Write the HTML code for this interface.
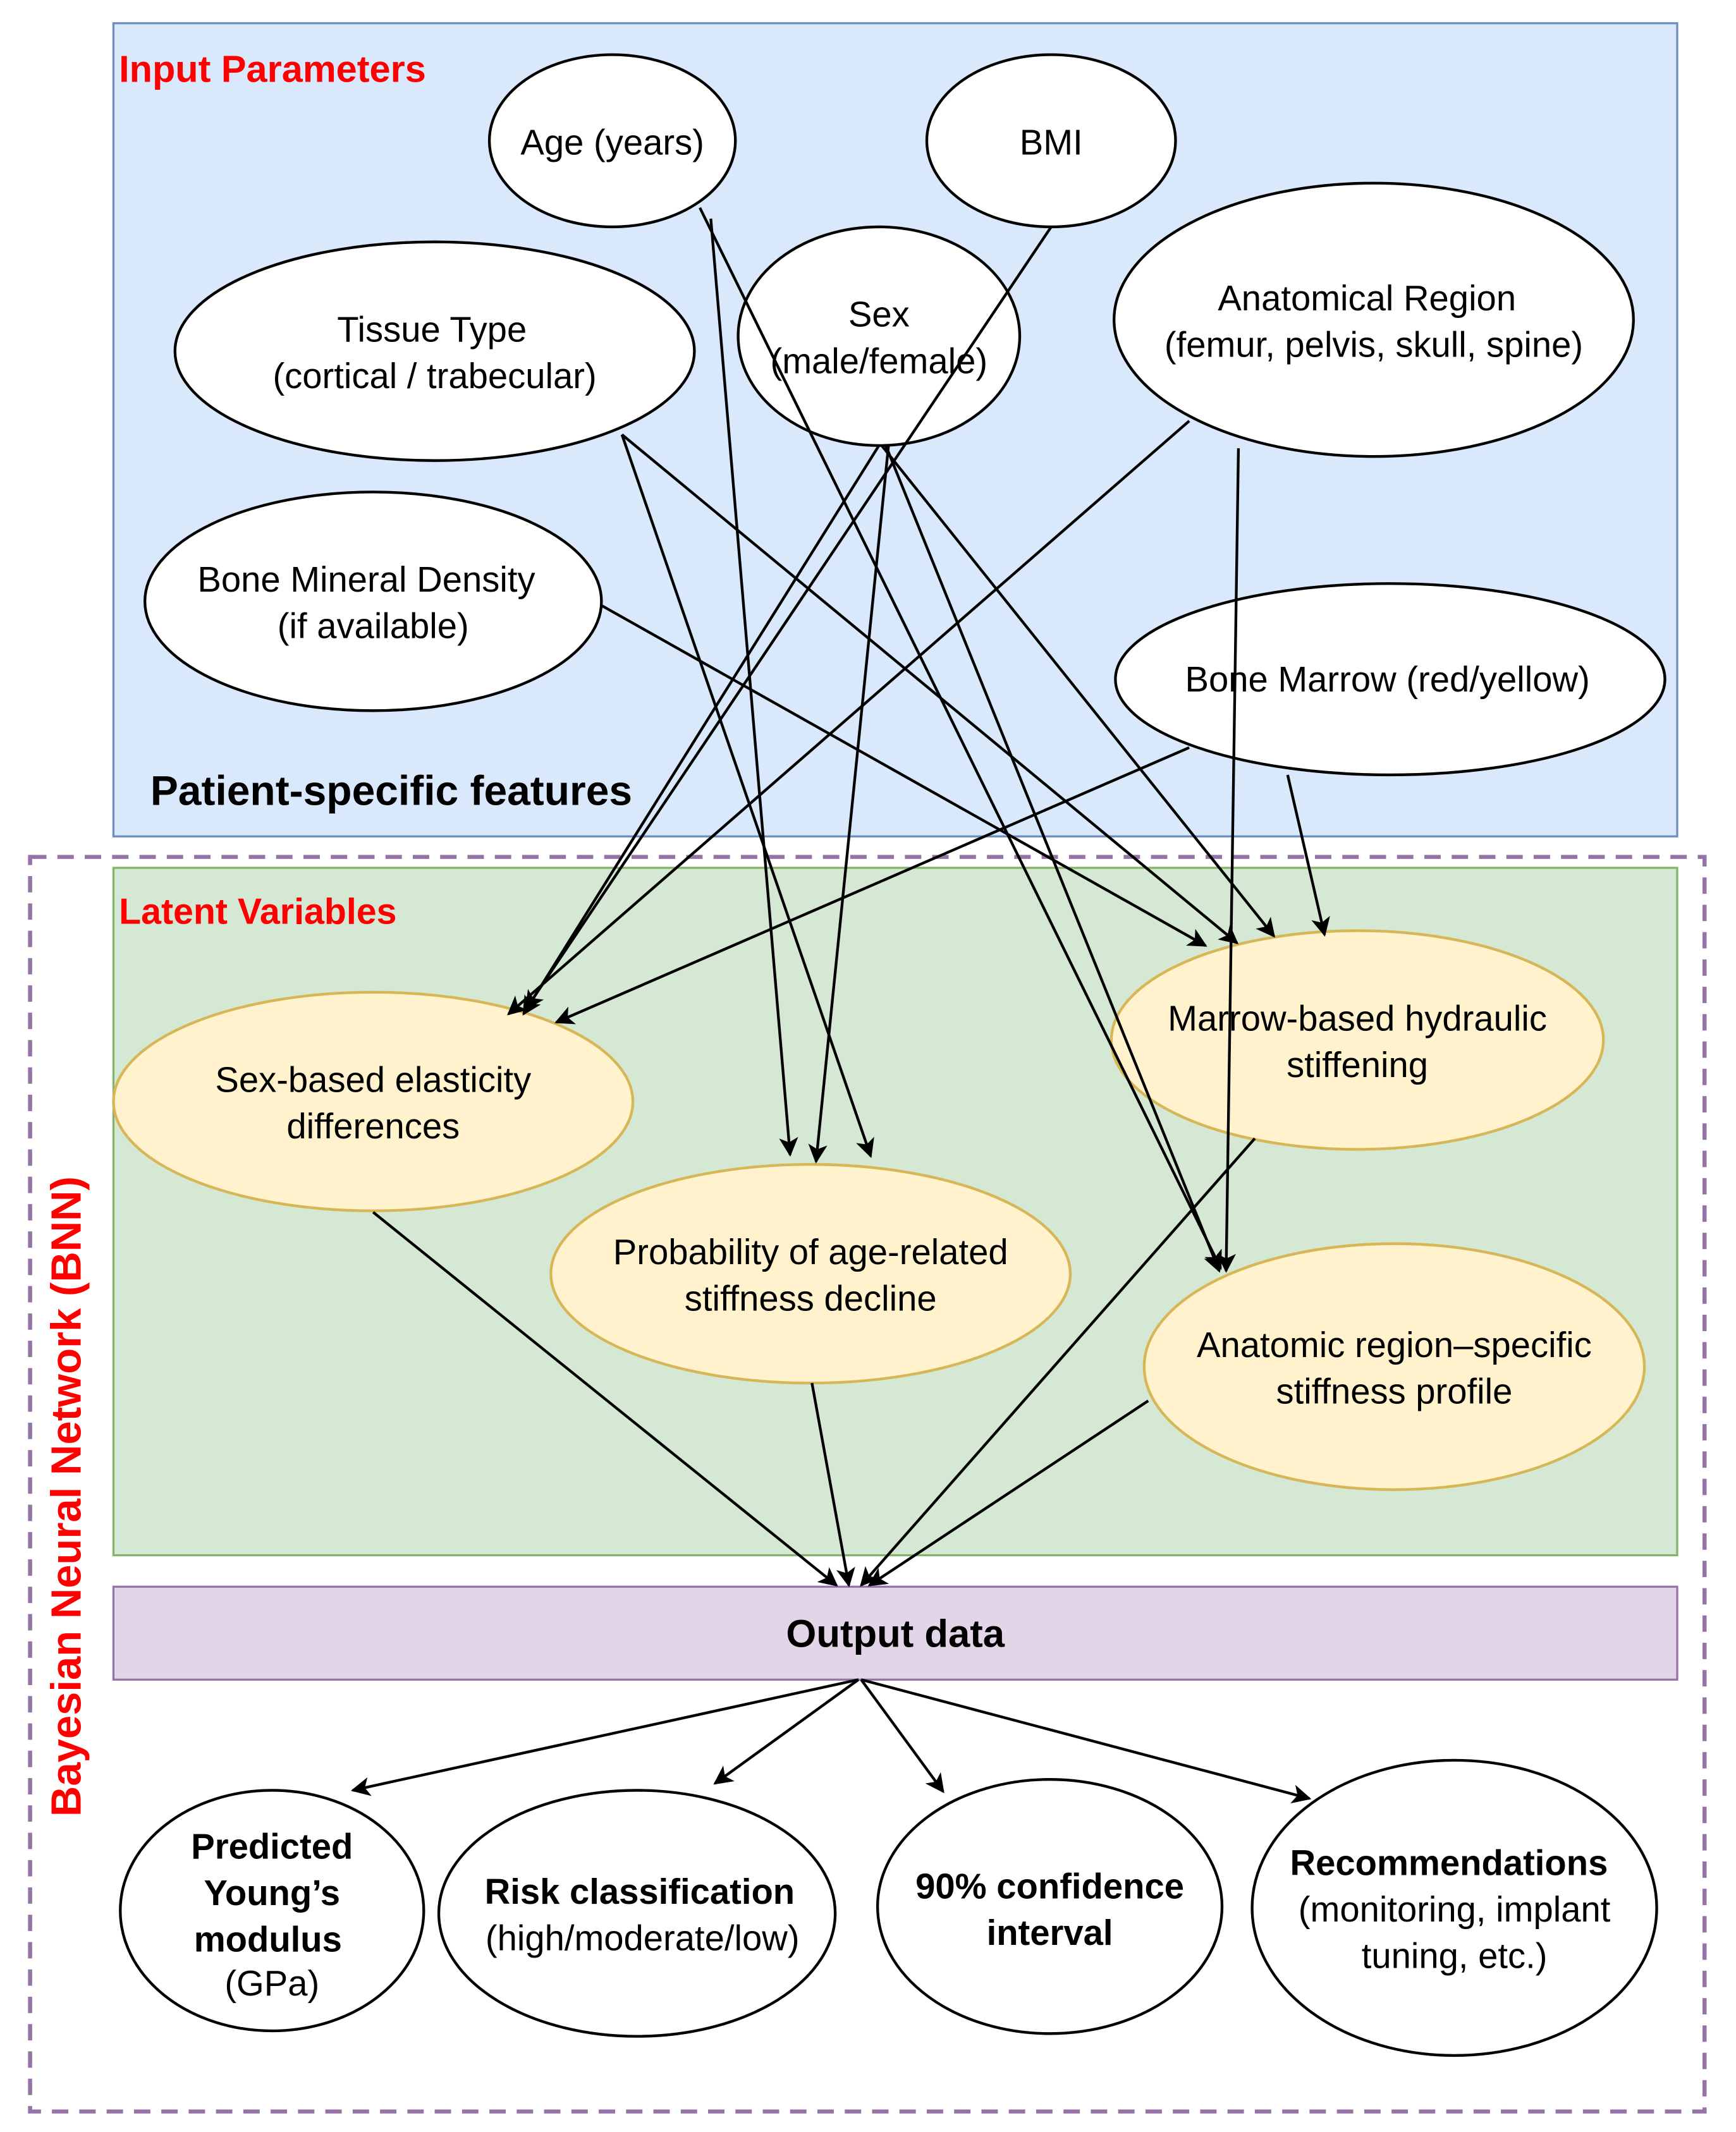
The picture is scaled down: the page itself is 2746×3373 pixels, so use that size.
<!DOCTYPE html>
<html><head><meta charset="utf-8"><style>html,body{margin:0;padding:0;background:#fff}svg{display:block}</style></head>
<body>
<svg width="2746" height="3373" viewBox="0 0 1270 1560" preserveAspectRatio="none" xmlns="http://www.w3.org/2000/svg" font-family="'Liberation Sans', sans-serif">
<defs>
<marker id="a" viewBox="0 0 10 10" refX="9" refY="5" markerWidth="14" markerHeight="14" orient="auto" markerUnits="userSpaceOnUse">
<path d="M0,0 L10,5 L0,10 L2.5,5 z" fill="#000"/></marker>
</defs>
<rect x="0" y="0" width="1270" height="1560" fill="#fff"/>
<rect x="83" y="17" width="1144" height="595" fill="#dae8fc" stroke="#6c8ebf" stroke-width="1.5"/>
<rect x="22" y="627" width="1225" height="918" fill="none" stroke="#9673a6" stroke-width="3" stroke-dasharray="12,8"/>
<rect x="83" y="635" width="1144" height="503" fill="#d5e8d4" stroke="#82b366" stroke-width="1.5"/>
<rect x="83" y="1161" width="1144" height="68" fill="#e1d5e7" stroke="#9673a6" stroke-width="1.5"/>
<text x="655" y="1205" font-size="28.5" font-weight="bold" text-anchor="middle">Output data</text>
<text x="87" y="60" font-size="27.5" font-weight="bold" fill="#ff0000">Input Parameters</text>
<text x="87" y="676" font-size="26.5" font-weight="bold" fill="#ff0000">Latent Variables</text>
<text x="110" y="589" font-size="30.5" font-weight="bold">Patient-specific features</text>
<text transform="translate(59,1095) rotate(-90)" font-size="31" font-weight="bold" fill="#ff0000" text-anchor="middle">Bayesian Neural Network (BNN)</text>

<g fill="#fff" stroke="#000" stroke-width="2">
<ellipse cx="448" cy="103" rx="90" ry="63"/>
<ellipse cx="769" cy="103" rx="91" ry="63"/>
<ellipse cx="643" cy="246" rx="103" ry="80"/>
<ellipse cx="318" cy="257" rx="190" ry="80"/>
<ellipse cx="1005" cy="234" rx="190" ry="100"/>
<ellipse cx="273" cy="440" rx="167" ry="80"/>
<ellipse cx="1017" cy="497" rx="201" ry="70"/>
<ellipse cx="199" cy="1398" rx="111" ry="88"/>
<ellipse cx="466" cy="1400" rx="145" ry="90"/>
<ellipse cx="768" cy="1395" rx="126" ry="93"/>
<ellipse cx="1064" cy="1396" rx="148" ry="108"/>
</g>
<g fill="#fff2cc" stroke="#d6b656" stroke-width="2">
<ellipse cx="273" cy="806" rx="190" ry="80"/>
<ellipse cx="593" cy="932" rx="190" ry="80"/>
<ellipse cx="993" cy="761" rx="180" ry="80"/>
<ellipse cx="1020" cy="1000" rx="183" ry="90"/>
</g>

<g font-size="26" text-anchor="middle">
<text x="448" y="113">Age (years)</text>
<text x="769" y="113">BMI</text>
<text x="643" y="239">Sex</text><text x="643" y="273">(male/female)</text>
<text x="316" y="250">Tissue Type</text><text x="318" y="284">(cortical / trabecular)</text>
<text x="1000" y="227">Anatomical Region</text><text x="1005" y="261">(femur, pelvis, skull, spine)</text>
<text x="268" y="433">Bone Mineral Density</text><text x="273" y="467">(if available)</text>
<text x="1015" y="506">Bone Marrow (red/yellow)</text>
<text x="273" y="799">Sex-based elasticity</text><text x="273" y="833">differences</text>
<text x="593" y="925">Probability of age-related</text><text x="593" y="959">stiffness decline</text>
<text x="993" y="754">Marrow-based hydraulic</text><text x="993" y="788">stiffening</text>
<text x="1020" y="993">Anatomic region–specific</text><text x="1020" y="1027">stiffness profile</text>
<text x="199" y="1360" font-weight="bold">Predicted</text><text x="199" y="1394" font-weight="bold">Young’s</text><text x="196" y="1428" font-weight="bold">modulus</text><text x="199" y="1460">(GPa)</text>
<text x="468" y="1393" font-weight="bold">Risk classification</text><text x="470" y="1427">(high/moderate/low)</text>
<text x="768" y="1389" font-weight="bold">90% confidence</text><text x="768" y="1423" font-weight="bold">interval</text>
<text x="1060" y="1372" font-weight="bold">Recommendations</text><text x="1064" y="1406">(monitoring, implant</text><text x="1064" y="1440">tuning, etc.)</text>
</g>

<g stroke="#000" stroke-width="2" fill="none" marker-end="url(#a)">
<line x1="512" y1="152" x2="893" y2="928"/>
<line x1="520" y1="160" x2="578" y2="845"/>
<line x1="769" y1="166" x2="385" y2="738"/>
<line x1="643" y1="326" x2="383" y2="742"/>
<line x1="650" y1="326" x2="597" y2="850"/>
<line x1="645" y1="326" x2="932" y2="685"/>
<line x1="648" y1="326" x2="892" y2="930"/>
<line x1="455" y1="318" x2="637" y2="846"/>
<line x1="455" y1="318" x2="905" y2="690"/>
<line x1="440" y1="443" x2="882" y2="692"/>
<line x1="870" y1="308" x2="372" y2="742"/>
<line x1="906" y1="328" x2="897" y2="930"/>
<line x1="870" y1="547" x2="407" y2="748"/>
<line x1="942" y1="567" x2="969" y2="684"/>
<line x1="273" y1="887" x2="612" y2="1160"/>
<line x1="594" y1="1012" x2="621" y2="1160"/>
<line x1="918" y1="833" x2="630" y2="1160"/>
<line x1="840" y1="1025" x2="636" y2="1160"/>
<line x1="628" y1="1229" x2="258" y2="1310"/>
<line x1="628" y1="1229" x2="523" y2="1305"/>
<line x1="630" y1="1229" x2="690" y2="1311"/>
<line x1="630" y1="1229" x2="958" y2="1316"/>
</g>
</svg>
</body></html>
